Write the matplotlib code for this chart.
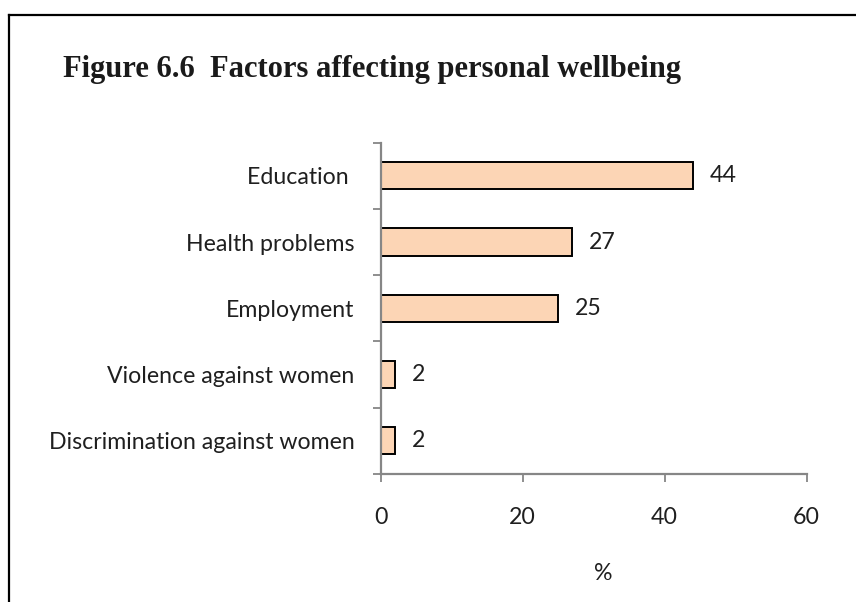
import matplotlib
matplotlib.use('Agg')
import matplotlib.pyplot as plt
from matplotlib.lines import Line2D

# Factors affecting personal wellbeing (percent)
factors = ['Education ', 'Health problems', 'Employment',
           'Violence against women', 'Discrimination against women']
shares = [44, 27, 25, 2, 2]
x_ticks = [0, 20, 40, 60]

W, H = 856, 602
fig = plt.figure(figsize=(W / 100, H / 100), dpi=100)

# plot area in pixels: x 380.7..806.7, y 142.75..473.7
x0, x1, y0, y1 = 380.7, 806.7, 142.75, 473.7
ax = fig.add_axes([x0 / W, 1 - y1 / H, (x1 - x0) / W, (y1 - y0) / H])

font = 'Lato'
fs = 16.7
txt_col = '#1f1f1f'
axis_col = '#868686'

pos = list(range(len(factors)))
bars = ax.barh(pos, shares, height=0.41, color='#FCD5B5',
               edgecolor='black', linewidth=1.4)
ax.bar_label(bars, labels=[str(v) for v in shares], padding=12,
             fontsize=fs, family=font, color=txt_col)

ax.set_xlim(0, 60)
ax.set_ylim(len(factors) - 0.5, -0.5)
ax.set_xticks(x_ticks)
ax.set_xticklabels([str(t) for t in x_ticks], family=font, fontsize=fs,
                   color=txt_col)
ax.tick_params(axis='x', length=6, width=1.3, color=axis_col, pad=18)

# category labels sit between the boundary tick marks
ax.set_yticks(pos)
ax.set_yticklabels(factors, family=font, fontsize=fs, color=txt_col)
ax.tick_params(axis='y', which='major', length=0, pad=19)
ax.set_yticks([p - 0.5 for p in range(len(factors) + 1)], minor=True)
ax.tick_params(axis='y', which='minor', length=6, width=1.3, color=axis_col)

for side in ['top', 'right']:
    ax.spines[side].set_visible(False)
for side in ['left', 'bottom']:
    ax.spines[side].set_color(axis_col)
    ax.spines[side].set_linewidth(1.6)

ax.set_xlabel('%', family=font, fontsize=fs, color=txt_col, va='center')
ax.xaxis.set_label_coords((603 - x0) / (x1 - x0), -(573 - y1) / (y1 - y0))

fig.text(63 / W, 1 - 77 / H, 'Figure 6.6  Factors affecting personal wellbeing',
         family='Liberation Serif', fontweight='bold', fontsize=22,
         color='#1a1a1a', va='baseline', ha='left')

# outer frame: top and left edges only
fig.add_artist(Line2D([9 / W, 1], [1 - 15 / H, 1 - 15 / H],
                      transform=fig.transFigure, color='black', linewidth=1.6))
fig.add_artist(Line2D([9 / W, 9 / W], [0, 1 - 15 / H],
                      transform=fig.transFigure, color='black', linewidth=1.6))

fig.savefig('out.png', dpi=100)
